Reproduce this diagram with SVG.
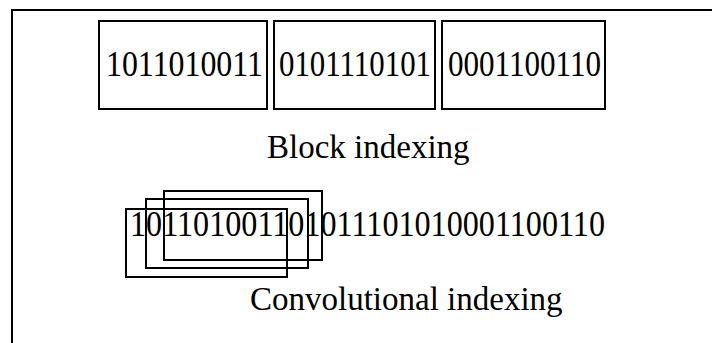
<svg xmlns="http://www.w3.org/2000/svg" width="712" height="343" viewBox="0 0 712 343">
<style>
.frame{fill:none;stroke:#000;stroke-width:2}
.box{fill:none;stroke:#000;stroke-width:2}
.t{font-family:"Liberation Serif","Times New Roman",serif;font-size:33px;fill:#000}
.d{font-family:"Liberation Serif","Times New Roman",serif;font-size:36px;fill:#000}
</style>
<rect width="712" height="343" fill="#fff"/>
<path class="frame" d="M12,343 V10 H712"/>
<g id="block1"><rect class="box" x="99" y="21" width="168" height="88"/><text class="d" x="106" y="76" textLength="157" lengthAdjust="spacingAndGlyphs">1011010011</text></g>
<g id="block2"><rect class="box" x="274" y="21" width="161" height="88"/><text class="d" x="279" y="76" textLength="152" lengthAdjust="spacingAndGlyphs">0101110101</text></g>
<g id="block3"><rect class="box" x="442" y="21" width="163" height="88"/><text class="d" x="448" y="76" textLength="153" lengthAdjust="spacingAndGlyphs">0001100110</text></g>
<g id="label-block"><text class="t" x="267" y="158">Block indexing</text></g>
<g id="conv-windows">
<rect class="box" x="164" y="191" width="158" height="69"/>
<rect class="box" x="146" y="199" width="162" height="69"/>
<rect class="box" x="126" y="209" width="161" height="68"/>
</g>
<g id="conv-seq"><text class="d" x="130" y="236" textLength="475" lengthAdjust="spacingAndGlyphs">101101001101011101010001100110</text></g>
<g id="label-conv"><text class="t" x="250" y="310">Convolutional indexing</text></g>
</svg>
